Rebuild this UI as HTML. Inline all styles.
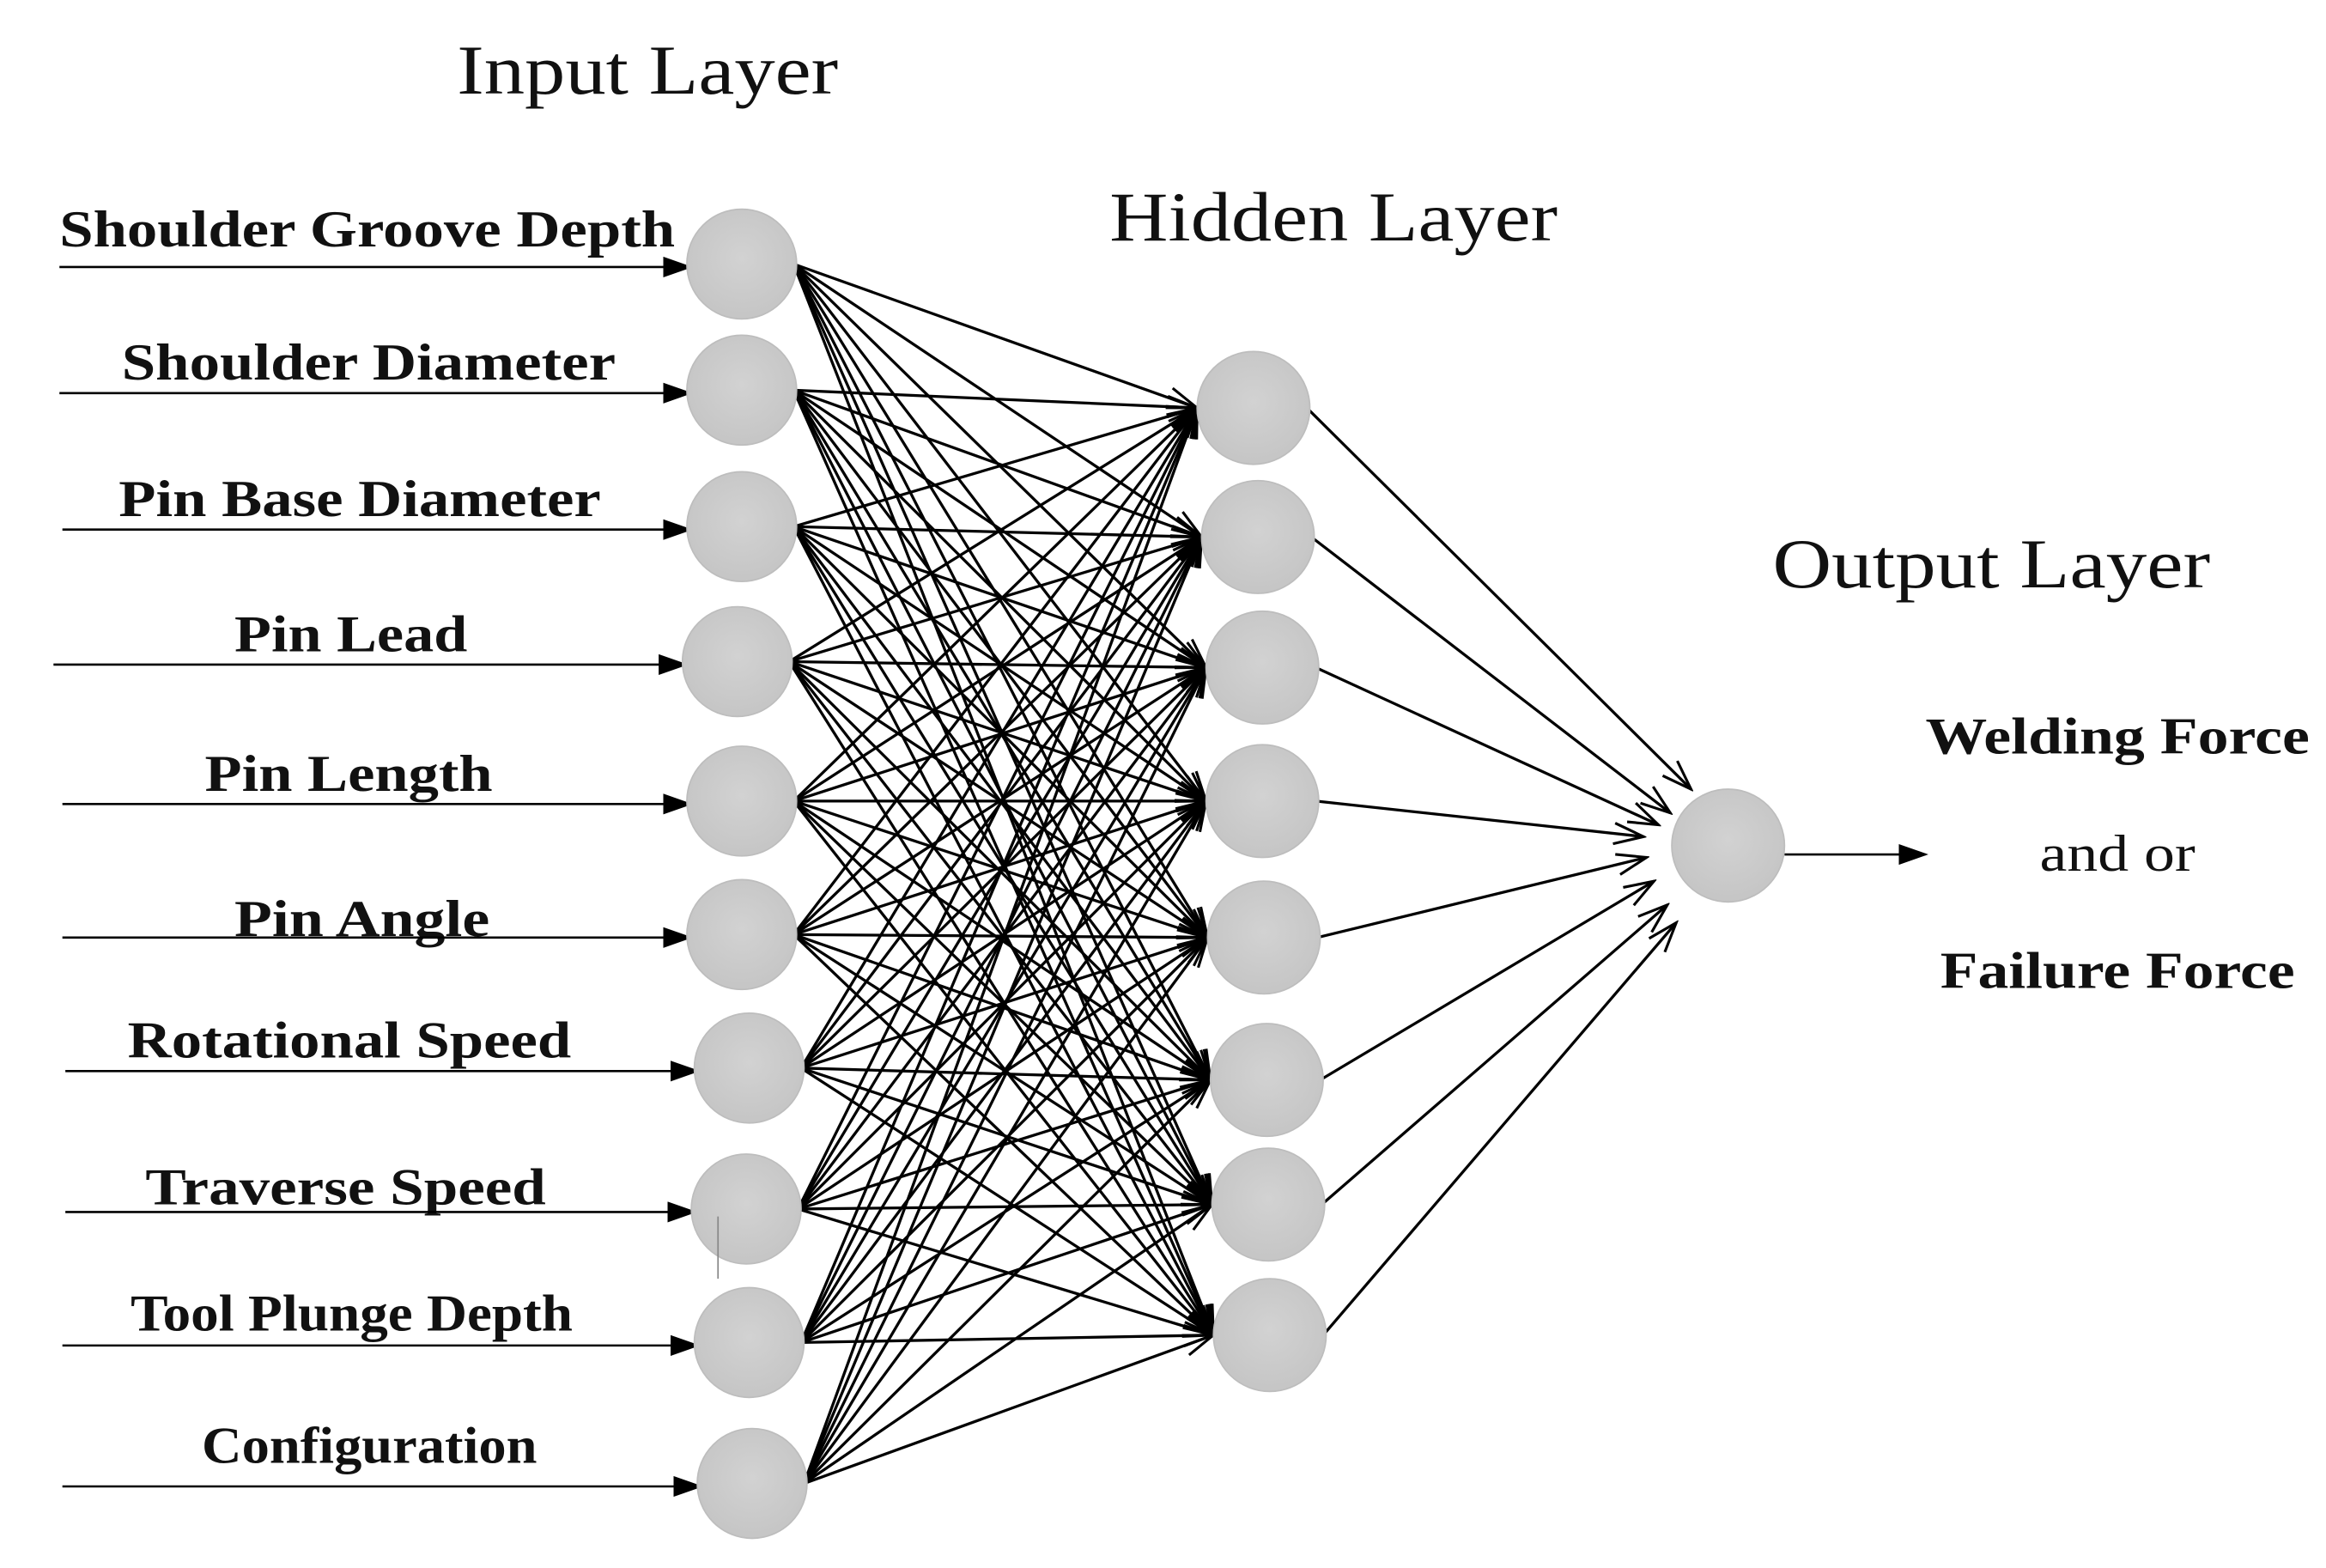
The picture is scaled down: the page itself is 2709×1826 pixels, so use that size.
<!DOCTYPE html>
<html><head><meta charset="utf-8">
<style>
html,body{margin:0;padding:0;background:#fff;}
svg{display:block;}
.t{font-family:"Liberation Serif",serif;fill:#111;}
.b{font-family:"Liberation Serif",serif;font-weight:bold;fill:#111;font-size:35px;}
</style></head>
<body>
<svg id="s" width="2709" height="1826" viewBox="0 0 1568 1057" xmlns="http://www.w3.org/2000/svg">
<defs>
<radialGradient id="g" cx="50%" cy="45%" r="60%">
<stop offset="0" stop-color="#d2d2d2"/><stop offset="1" stop-color="#c4c4c4"/>
</radialGradient>
<marker id="f" markerWidth="20" markerHeight="14" refX="18" refY="7" orient="auto" markerUnits="userSpaceOnUse">
<path d="M0,0 L20,7 L0,14 Z" fill="#000"/>
</marker>
<marker id="o" markerWidth="24" markerHeight="16" refX="22" refY="8" orient="auto" markerUnits="userSpaceOnUse">
<path d="M2,1 L22,8 L2,15" fill="none" stroke="#000" stroke-width="1.8"/>
</marker>
</defs>
<rect width="1568" height="1057" fill="#fff"/>
<text class="t" x="308" y="63" font-size="47" textLength="257" lengthAdjust="spacingAndGlyphs">Input Layer</text>
<text class="t" x="748" y="162" font-size="47" textLength="302" lengthAdjust="spacingAndGlyphs">Hidden Layer</text>
<text class="t" x="1195" y="396" font-size="47" textLength="295" lengthAdjust="spacingAndGlyphs">Output Layer</text>

<text class="b" x="40" y="166" textLength="415" lengthAdjust="spacingAndGlyphs">Shoulder Groove Depth</text>
<text class="b" x="82" y="256" textLength="333" lengthAdjust="spacingAndGlyphs">Shoulder Diameter</text>
<text class="b" x="80" y="348" textLength="325" lengthAdjust="spacingAndGlyphs">Pin Base Diameter</text>
<text class="b" x="158" y="439" textLength="157" lengthAdjust="spacingAndGlyphs">Pin Lead</text>
<text class="b" x="138" y="533" textLength="194" lengthAdjust="spacingAndGlyphs">Pin Length</text>
<text class="b" x="158" y="631" textLength="172" lengthAdjust="spacingAndGlyphs">Pin Angle</text>
<text class="b" x="86" y="713" textLength="299" lengthAdjust="spacingAndGlyphs">Rotational Speed</text>
<text class="b" x="98" y="812" textLength="270" lengthAdjust="spacingAndGlyphs">Traverse Speed</text>
<text class="b" x="88" y="897" textLength="298" lengthAdjust="spacingAndGlyphs">Tool Plunge Depth</text>
<text class="b" x="136" y="986" textLength="226" lengthAdjust="spacingAndGlyphs">Configuration</text>

<text class="b" x="1298" y="508" textLength="259" lengthAdjust="spacingAndGlyphs">Welding Force</text>
<text class="t" x="1375" y="587" font-size="35" textLength="105" lengthAdjust="spacingAndGlyphs">and or</text>
<text class="b" x="1308" y="666" textLength="239" lengthAdjust="spacingAndGlyphs">Failure Force</text>

<g id="lines" stroke="#000" stroke-width="1.9" fill="none"></g>
<g id="nodes"></g>
<line x1="484" y1="820" x2="484" y2="862" stroke="#888" stroke-width="1"/>
</svg>
<script>
var NS="http://www.w3.org/2000/svg";
var inp=[[500,178],[500,263],[500,355],[497,446],[500,540],[500,630],[505,720],[503,815],[505,905],[507,1000]];
var hid=[[845,275],[848,362],[851,450],[851,540],[852,632],[854,728],[855,812],[856,900]];
var out=[1165,570];
var tips=[[1140,532],[1126,548],[1118,556],[1108,564],[1110,578],[1115,594],[1124,610],[1130,622]];
var starts=[40,40,42,36,42,42,44,44,42,42];
var L=document.getElementById("lines"),N=document.getElementById("nodes");
function ln(x1,y1,x2,y2,m,w){var l=document.createElementNS(NS,"line");l.setAttribute("x1",x1);l.setAttribute("y1",y1);l.setAttribute("x2",x2);l.setAttribute("y2",y2);l.setAttribute("marker-end","url(#"+m+")");if(w)l.setAttribute("stroke-width",w);L.appendChild(l);}
function c(x,y,r){var e=document.createElementNS(NS,"ellipse");e.setAttribute("cx",x);e.setAttribute("cy",y);e.setAttribute("rx",r);e.setAttribute("ry",r);e.setAttribute("fill","url(#g)");e.setAttribute("stroke","#bdbdbd");e.setAttribute("stroke-width","1");N.appendChild(e);}
inp.forEach(function(p,i){ln(starts[i],p[1]+2,p[0]-35,p[1]+2,"f",1.5);});
inp.forEach(function(p){hid.forEach(function(h){ln(p[0]+35,p[1],h[0]-38,h[1],"o");});});
hid.forEach(function(h,i){ln(h[0]+36,h[1],tips[i][0],tips[i][1],"o");});
ln(out[0]+38,out[1]+6,1298,out[1]+6,"f",1.5);
inp.forEach(function(p){c(p[0],p[1],37);});
hid.forEach(function(h){c(h[0],h[1],38);});
c(out[0],out[1],38);
</script>
</body></html>
